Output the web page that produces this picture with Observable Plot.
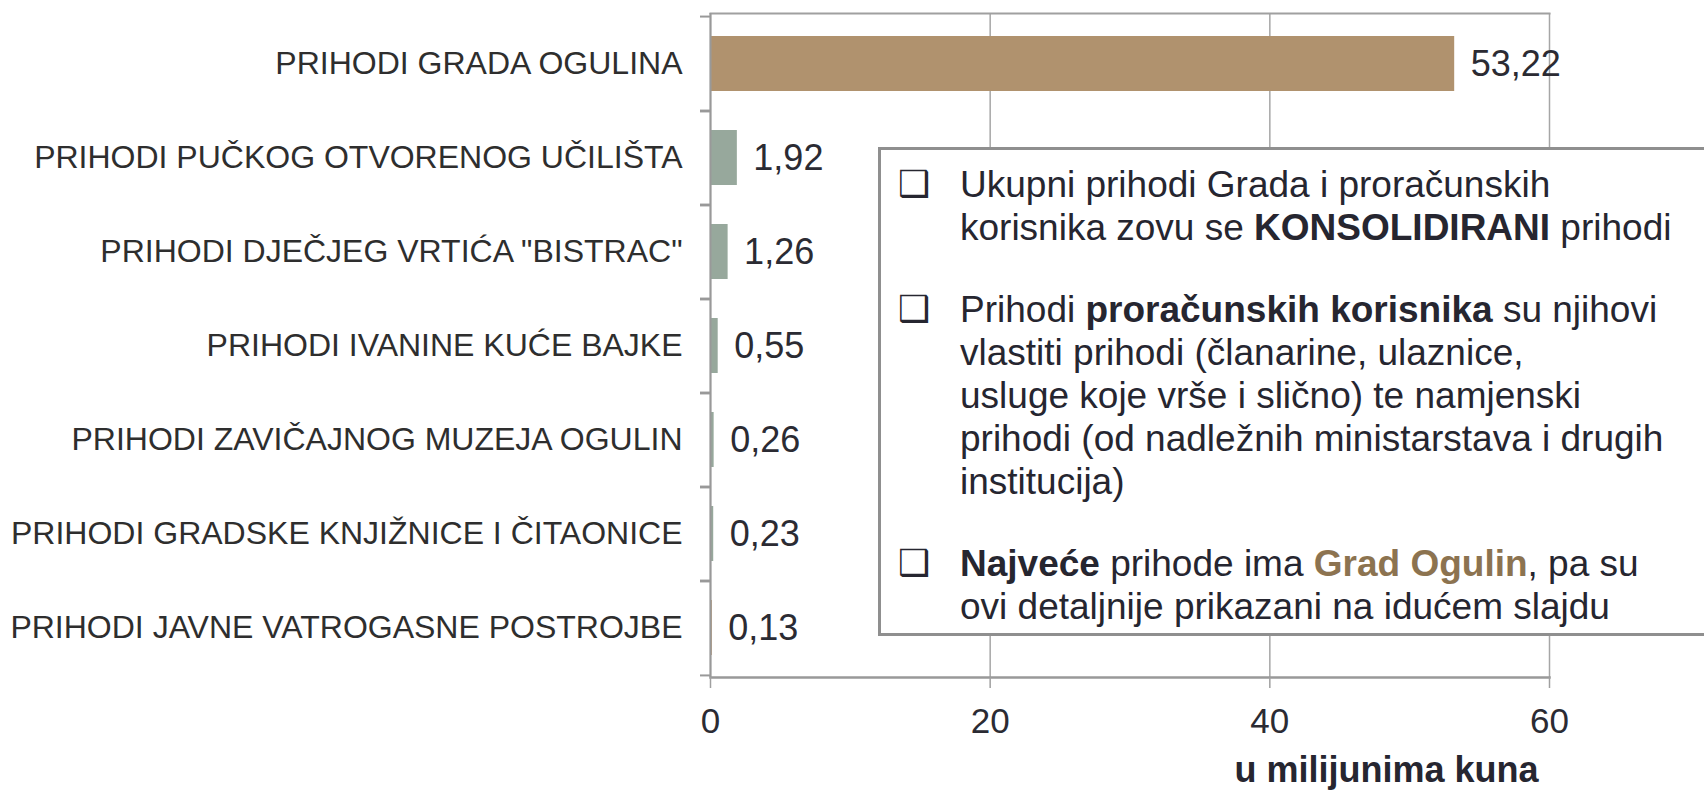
<!DOCTYPE html>
<html>
<head>
<meta charset="utf-8">
<script src="https://cdn.jsdelivr.net/npm/d3@7"></script>
<script src="https://cdn.jsdelivr.net/npm/@observablehq/plot@0.6"></script>
<style>
  html, body { margin: 0; padding: 0; background: #fff; overflow: hidden; }
  #wrap { position: relative; width: 1704px; height: 791px; }
  .note {
    position: absolute; left: 878px; top: 147px; width: 900px; height: 489px;
    box-sizing: border-box; border: 3px solid #8f8f8f; background: #fff;
    font-family: "Liberation Sans", Arial, sans-serif; font-size: 37px; line-height: 43px;
    color: #262630; padding-top: 13px; white-space: nowrap;
  }
  .note p { position: relative; margin: 0 0 39px 0; padding-left: 79px; }
  .note p::before {
    content: "\2751"; position: absolute; left: 17px; top: -1px;
    font-family: "DejaVu Sans", sans-serif; font-weight: bold; font-size: 36px; color: #262630;
  }
  .note .gold { color: #8c7350; }
</style>
</head>
<body>
<div id="wrap"></div>
<script>
const categories = [
  "PRIHODI GRADA OGULINA",
  "PRIHODI PUČKOG OTVORENOG UČILIŠTA",
  "PRIHODI DJEČJEG VRTIĆA \"BISTRAC\"",
  "PRIHODI IVANINE KUĆE BAJKE",
  "PRIHODI ZAVIČAJNOG MUZEJA OGULIN",
  "PRIHODI GRADSKE KNJIŽNICE I ČITAONICE",
  "PRIHODI JAVNE VATROGASNE POSTROJBE"
];
const values = [53.22, 1.92, 1.26, 0.55, 0.26, 0.23, 0.13];
const valueLabels = ["53,22", "1,92", "1,26", "0,55", "0,26", "0,23", "0,13"];
const barColors = ["#b0926e", "#97a89c", "#97a89c", "#97a89c", "#97a89c", "#97a89c", "#b0926e"];
const xTicks = [0, 20, 40, 60];
const axisTitle = "u milijunima kuna";

const data = categories.map((c, i) => ({cat: c, value: values[i], label: valueLabels[i], color: barColors[i]}));

const W = 1704, H = 791, mT = 13, mB = 114, mL = 710, mR = 155;
const halfStep = (H - mT - mB) / categories.length / 2;

const chart = Plot.plot({
  width: W, height: H,
  marginTop: mT, marginBottom: mB, marginLeft: mL, marginRight: mR,
  style: {fontFamily: "'Liberation Sans', Arial, sans-serif", color: "#2b2b33", background: "#fff"},
  x: {domain: [0, 60]},
  y: {domain: categories, paddingInner: 0.42, paddingOuter: 0.21},
  color: {type: "identity"},
  marks: [
    Plot.gridX(xTicks, {stroke: "#a6a6a6", strokeOpacity: 1, strokeWidth: 1.5}),
    Plot.frame({anchor: "top", stroke: "#a0a0a0", strokeWidth: 2}),
    Plot.barX(data, {x: "value", y: "cat", fill: "color"}),
    Plot.text(data, {x: "value", y: "cat", text: "label", textAnchor: "start", dx: 16, fontSize: 36, fill: "#2b2b33"}),
    Plot.axisY({tickSize: 0, tickPadding: 28, fontSize: 32, fill: "#2e2e2e", label: null}),
    Plot.axisY({tickSize: 10, tickFormat: () => "", dy: halfStep, stroke: "#999", strokeWidth: 2, label: null}),
    Plot.axisY({tickSize: 10, tickFormat: () => "", dy: -halfStep, stroke: "#999", strokeWidth: 2, label: null}),
    Plot.ruleX([0], {stroke: "#999", strokeWidth: 2}),
    Plot.frame({anchor: "bottom", stroke: "#999", strokeWidth: 2.5}),
    Plot.axisX({ticks: xTicks, tickSize: 11, tickPadding: 20, fontSize: 35, stroke: "#a0a0a0", strokeWidth: 1.5, fill: "#2b2b33", label: null}),
    Plot.text([axisTitle], {frameAnchor: "bottom-right", textAnchor: "end", lineAnchor: "middle", dx: -11, dy: 93,
      fontSize: 36, fontWeight: "bold", fill: "#262630"})
  ]
});

const wrap = document.getElementById("wrap");
wrap.appendChild(chart);

const note = document.createElement("div");
note.className = "note";
note.innerHTML =
  '<p>Ukupni prihodi Grada i proračunskih<br>korisnika zovu se <b>KONSOLIDIRANI</b> prihodi</p>' +
  '<p>Prihodi <b>proračunskih korisnika</b> su njihovi<br>vlastiti prihodi (članarine, ulaznice,<br>usluge koje vrše i slično) te namjenski<br>prihodi (od nadležnih ministarstava i drugih<br>institucija)</p>' +
  '<p><b>Najveće</b> prihode ima <b class="gold">Grad Ogulin</b>, pa su<br>ovi detaljnije prikazani na idućem slajdu</p>';
wrap.appendChild(note);
</script>
</body>
</html>
